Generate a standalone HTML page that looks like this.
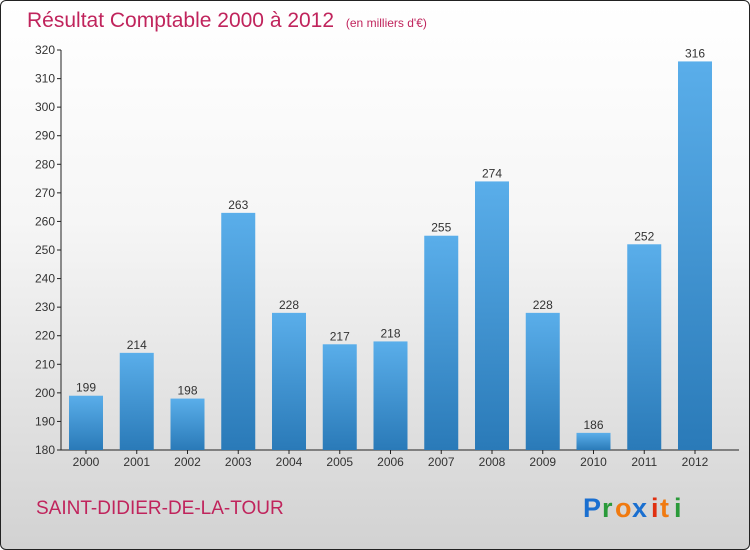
<!DOCTYPE html>
<html><head><meta charset="utf-8"><style>
html,body{margin:0;padding:0}
#wrap{position:relative;width:748px;height:548px;border:1px solid #222;border-radius:6px;overflow:hidden;background:linear-gradient(#ffffff 0%,#f6f6f6 40%,#d2d2d2 100%);font-family:"Liberation Sans",sans-serif}
</style></head><body>
<div id="wrap">
<svg id="chart" width="748" height="548">
<text x="26" y="26" font-size="21" fill="#c0245c">Résultat Comptable 2000 à 2012 <tspan font-size="12" dx="6">(en milliers d'€)</tspan></text>
<text x="35" y="513" font-size="19" fill="#c0245c">SAINT-DIDIER-DE-LA-TOUR</text>
<g font-size="27" font-weight="bold">
<text x="582" y="516" fill="#1a6fd0">P</text><text x="601" y="516" fill="#2a9a3a">r</text><text x="614" y="516" fill="#f07a10">o</text><text x="631" y="516" fill="#1a6fd0">x</text><text x="650" y="516" fill="#e03010">i</text><text x="659" y="516" fill="#f07a10">t</text><text x="673" y="516" fill="#2a9a3a">i</text>
</g>
<defs><linearGradient id="bg" x1="0" y1="0" x2="0" y2="1"><stop offset="0" stop-color="#5aaeea"/><stop offset="1" stop-color="#2a7ab8"/></linearGradient></defs>
<g id="axes"></g><g id="bars"></g>
</svg></div>
<script>
const categories=["2000","2001","2002","2003","2004","2005","2006","2007","2008","2009","2010","2011","2012"];
const values=[199,214,198,263,228,217,218,255,274,228,186,252,316];
const yTicks=[180,190,200,210,220,230,240,250,260,270,280,290,300,310,320];
const NS="http://www.w3.org/2000/svg";
const y0=449,y1=49,vmin=180,vmax=320,x0=60,step=50.75,first=85,bw=34;
const ys=v=>y0-(v-vmin)/(vmax-vmin)*(y0-y1);
const xs=i=>first+i*step;
function mk(t,a,p){const e=document.createElementNS(NS,t);for(const k in a)e.setAttribute(k,a[k]);p.appendChild(e);return e;}
const ax=document.getElementById('axes'),bars=document.getElementById('bars');
let l=mk('line',{x1:x0,y1:y1,x2:x0,y2:y0,stroke:'#222'},ax);


l=mk('line',{x1:x0,y1:y0,x2:738,y2:y0,stroke:'#222'},ax);


yTicks.forEach(v=>{const y=ys(v);
 mk('line',{x1:x0-4,y1:y,x2:x0,y2:y,stroke:'#222'},ax);
 const t=mk('text',{x:x0-6,y:y+4,'text-anchor':'end','font-size':12,fill:'#333'},ax);t.textContent=v;
 
 });
categories.forEach((c,i)=>{const x=xs(i),v=values[i];
 const r=mk('rect',{x:x-bw/2,y:ys(v),width:bw,height:y0-ys(v),fill:'url(#bg)'},bars);
 
 
 mk('line',{x1:x,y1:y0,x2:x,y2:y0+4,stroke:'#222'},ax);
 const t=mk('text',{x:x,y:y0+16,'text-anchor':'middle','font-size':12,fill:'#333'},ax);t.textContent=c;
 
 
 const vl=mk('text',{x:x,y:ys(v)-4,'text-anchor':'middle','font-size':12,fill:'#333'},bars);vl.textContent=v;
 
 });
</script>
</body></html>
